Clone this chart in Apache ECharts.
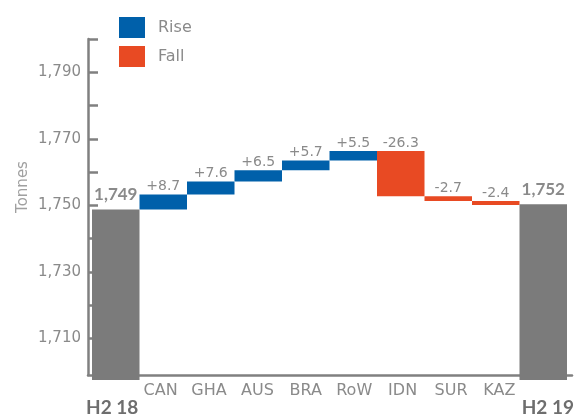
<!DOCTYPE html>
<html>
<head>
<meta charset="utf-8">
<script src="https://cdn.jsdelivr.net/npm/echarts@6/dist/echarts.min.js"></script>
<style>
html,body{margin:0;padding:0;background:#fff;}
#c{width:580px;height:417px;}
</style>
</head>
<body>
<div id="c"></div>
<script>
// ---- data ----
var categories = ['H2 18','CAN','GHA','AUS','BRA','RoW','IDN','SUR','KAZ','H2 19'];
var startValue = 1749;
var changes = [8.7, 7.6, 6.5, 5.7, 5.5, -26.3, -2.7, -2.4];
var endValue = 1752;
var yTickValues = [1710,1720,1730,1740,1750,1760,1770,1780,1790,1800];
var yLabelValues = [1710,1730,1750,1770,1790];

// ---- build waterfall series from data ----
var baseData = [0], riseData = ['-'], fallData = ['-'], totalData = [startValue];
var cum = startValue;
changes.forEach(function (d) {
  if (d >= 0) { baseData.push(cum); riseData.push(d); fallData.push('-'); }
  else { baseData.push(cum + d); riseData.push('-'); fallData.push(-d); }
  totalData.push('-');
  cum += d;
});
baseData.push(0); riseData.push('-'); fallData.push('-'); totalData.push(endValue);

var FONT = 'DejaVu Sans';
var BOLD_FONT = 'Lato';
var GREY_TXT = '#8a8a8a';
var AXIS = '#808080';
function fmtThousands(v){ return String(v).replace(/\B(?=(\d{3})+(?!\d))/g, ','); }

var chart = echarts.init(document.getElementById('c'), null, {renderer:'canvas'});
chart.setOption({
  animation: false,
  backgroundColor: '#fff',
  textStyle: { fontFamily: FONT },
  legend: {
    orient: 'vertical', left: 119, top: 17, padding: 0,
    itemWidth: 26, itemHeight: 21, itemGap: 8,
    data: ['Rise','Fall'],
    icon: 'rect',
    textStyle: { fontFamily: FONT, fontSize: 16, color: GREY_TXT, padding: [0,0,0,8] }
  },
  grid: [
    { left: 88, right: 8, top: 39, bottom: 37 },
    { left: 92, right: 13, top: 39, bottom: 37 }
  ],
  xAxis: [
    { type: 'category', gridIndex: 0, data: categories, boundaryGap: true,
      axisLine: { lineStyle: { color: AXIS, width: 2.5 } },
      axisTick: { inside: true, length: 6, lineStyle: { color: AXIS, width: 2 }, interval: 0 },
      axisLabel: {
        interval: 0, margin: 8, color: GREY_TXT, fontFamily: FONT, fontSize: 16,
        formatter: function (v, i) {
          if (i === 0 || i === categories.length - 1) return '\n{b|' + v + '}';
          return v;
        },
        rich: { b: { fontFamily: BOLD_FONT, fontSize: 19, fontWeight: 'bold', color: '#6e6e6e', lineHeight: 17 } }
      }
    },
    { type: 'category', gridIndex: 1, data: categories, show: false }
  ],
  yAxis: [
    { type: 'value', gridIndex: 0, min: 1699, max: 1800,
      name: 'Tonnes', nameLocation: 'middle', nameGap: 57, nameRotate: 90, nameMoveOverlap: false,
      nameTextStyle: { fontFamily: FONT, fontSize: 15, color: '#a0a0a0', padding: [0,0,0,40] },
      axisLine: { show: true, lineStyle: { color: AXIS, width: 2.5 } },
      axisTick: { show: true, inside: true, length: 10, customValues: yTickValues, lineStyle: { color: AXIS, width: 2.5 } },
      axisLabel: { customValues: yLabelValues, margin: 7, color: GREY_TXT, fontFamily: FONT, fontSize: 15,
        formatter: function (v) { return fmtThousands(v); } },
      splitLine: { show: false }
    },
    { type: 'value', gridIndex: 1, min: 1650, max: 1848, show: false, splitLine: { show: false } }
  ],
  series: [
    { name: 'base', type: 'bar', xAxisIndex: 1, yAxisIndex: 1, stack: 'w', barCategoryGap: '0%',
      itemStyle: { color: 'rgba(0,0,0,0)' }, silent: true, data: baseData },
    { name: 'Rise', type: 'bar', xAxisIndex: 1, yAxisIndex: 1, stack: 'w', barCategoryGap: '0%',
      itemStyle: { color: '#0060aa' }, data: riseData,
      label: { show: true, position: 'top', distance: 1, color: GREY_TXT, fontFamily: FONT, fontSize: 14,
        formatter: function (p) { return '+' + changes[p.dataIndex - 1]; } } },
    { name: 'Fall', type: 'bar', xAxisIndex: 1, yAxisIndex: 1, stack: 'w', barCategoryGap: '0%',
      itemStyle: { color: '#e84a23' }, data: fallData,
      label: { show: true, position: 'top', distance: 1, color: GREY_TXT, fontFamily: FONT, fontSize: 14,
        formatter: function (p) { return String(changes[p.dataIndex - 1]); } } },
    { name: 'Total', type: 'bar', xAxisIndex: 1, yAxisIndex: 1, stack: 'w', barCategoryGap: '0%',
      itemStyle: { color: '#7b7b7b' }, data: totalData,
      label: { show: true, position: 'top', distance: 6, color: GREY_TXT, fontFamily: BOLD_FONT, fontSize: 17, fontWeight: 'bold',
        formatter: function (p) { return fmtThousands(p.value); } } }
  ]
});
</script>
</body>
</html>
